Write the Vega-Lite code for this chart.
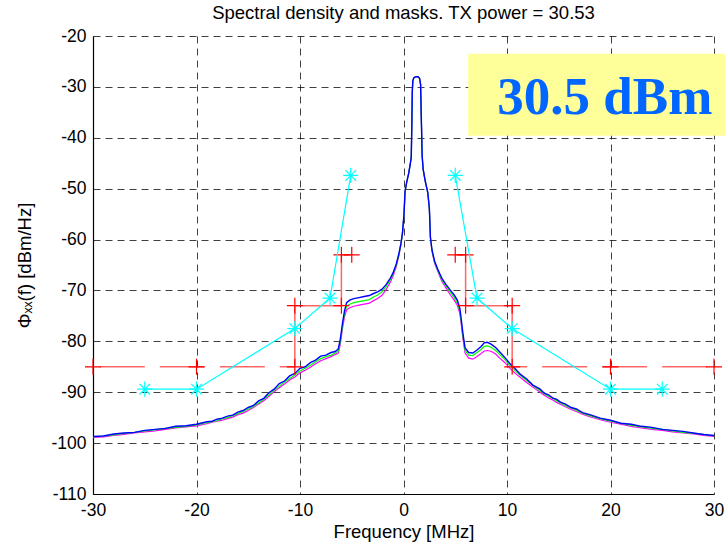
{
  "$schema": "https://vega.github.io/schema/vega-lite/v6.json",
  "width": 621,
  "height": 458,
  "autosize": {"type": "none"},
  "padding": {"left": 93, "top": 36, "right": 11, "bottom": 49},
  "background": "white",
  "title": {"text": "Spectral density and masks. TX power = 30.53", "font": "Liberation Sans", "fontSize": 18.5, "fontWeight": "normal", "color": "#000000", "anchor": "middle", "offset": 5},
  "config": {
    "view": {"stroke": null},
    "axis": {
      "labelFont": "Liberation Sans", "labelFontSize": 17.5, "labelColor": "#000000",
      "titleFont": "Liberation Sans", "titleFontSize": 18.5, "titleFontWeight": "normal", "titleColor": "#000000",
      "ticks": false, "domainColor": "#000000", "domainWidth": 1.2,
      "gridColor": "#000000", "gridDash": [7, 5], "gridOpacity": 0.75, "gridWidth": 1,
      "labelPadding": 7, "labelFlush": false, "labelOverlap": false,
      "labelExpr": "replace(datum.label, '−', '-')"
    }
  },
  "datasets": {
    "box": [{"f": 6.25, "f2": 31.5, "v": -23.5, "v2": -39.6}],
    "note": [{"f": 19.45, "v": -35.4, "label": "30.5 dBm"}],
    "spec": [
      {"f": -30, "b": -98.7, "g": -98.8, "m": -98.9},
      {"f": -29, "b": -98.6, "g": -98.6, "m": -98.8},
      {"f": -28, "b": -98.2, "g": -98.4, "m": -98.5},
      {"f": -27, "b": -98.0, "g": -98.1, "m": -98.3},
      {"f": -26, "b": -97.9, "g": -97.9, "m": -98.0},
      {"f": -25, "b": -97.5, "g": -97.6, "m": -97.8},
      {"f": -24, "b": -97.3, "g": -97.4, "m": -97.6},
      {"f": -23, "b": -97.1, "g": -97.1, "m": -97.3},
      {"f": -22, "b": -96.7, "g": -96.9, "m": -97.0},
      {"f": -21, "b": -96.6, "g": -96.7, "m": -96.8},
      {"f": -20, "b": -96.3, "g": -96.4, "m": -96.6},
      {"f": -19, "b": -95.8, "g": -96.0, "m": -96.2},
      {"f": -18.5, "b": -95.7, "g": -95.8, "m": -95.9},
      {"f": -18, "b": -95.3, "g": -95.6, "m": -95.7},
      {"f": -17.5, "b": -95.1, "g": -95.2, "m": -95.5},
      {"f": -17, "b": -94.7, "g": -95.0, "m": -95.2},
      {"f": -16.5, "b": -94.5, "g": -94.6, "m": -94.9},
      {"f": -16, "b": -93.9, "g": -94.2, "m": -94.4},
      {"f": -15.5, "b": -93.6, "g": -93.8, "m": -94.1},
      {"f": -15, "b": -93.0, "g": -93.3, "m": -93.6},
      {"f": -14.5, "b": -92.6, "g": -92.8, "m": -93.0},
      {"f": -14, "b": -91.7, "g": -92.1, "m": -92.3},
      {"f": -13.5, "b": -91.2, "g": -91.4, "m": -91.7},
      {"f": -13, "b": -90.1, "g": -90.5, "m": -90.8},
      {"f": -12.5, "b": -89.4, "g": -89.6, "m": -89.9},
      {"f": -12, "b": -88.3, "g": -88.8, "m": -89.1},
      {"f": -11.5, "b": -87.8, "g": -88.0, "m": -88.4},
      {"f": -11, "b": -86.8, "g": -87.3, "m": -87.6},
      {"f": -10.5, "b": -86.3, "g": -86.6, "m": -87.0},
      {"f": -10, "b": -85.3, "g": -85.8, "m": -86.2},
      {"f": -9.5, "b": -85.0, "g": -85.3, "m": -85.7},
      {"f": -9, "b": -84.2, "g": -84.7, "m": -85.1},
      {"f": -8.5, "b": -83.7, "g": -84.0, "m": -84.4},
      {"f": -8, "b": -82.9, "g": -83.4, "m": -83.8},
      {"f": -7.5, "b": -82.7, "g": -83.0, "m": -83.4},
      {"f": -7, "b": -82.2, "g": -82.7, "m": -83.0},
      {"f": -6.6, "b": -82.0, "g": -82.3, "m": -82.6},
      {"f": -6.3, "b": -81.5, "g": -81.9, "m": -82.3},
      {"f": -6.1, "b": -79.5, "g": -80.0, "m": -80.5},
      {"f": -5.9, "b": -76.5, "g": -77.0, "m": -77.5},
      {"f": -5.7, "b": -74.0, "g": -74.6, "m": -75.2},
      {"f": -5.5, "b": -72.4, "g": -73.1, "m": -73.8},
      {"f": -5.2, "b": -71.9, "g": -72.7, "m": -73.4},
      {"f": -4.8, "b": -71.6, "g": -72.4, "m": -73.1},
      {"f": -4.3, "b": -71.4, "g": -72.2, "m": -72.9},
      {"f": -3.8, "b": -71.2, "g": -72.0, "m": -72.7},
      {"f": -3.3, "b": -71.0, "g": -71.8, "m": -72.5},
      {"f": -2.9, "b": -70.6, "g": -71.3, "m": -72.0},
      {"f": -2.5, "b": -70.3, "g": -70.9, "m": -71.6},
      {"f": -2.1, "b": -69.8, "g": -70.3, "m": -71.0},
      {"f": -1.7, "b": -68.9, "g": -69.3, "m": -69.9},
      {"f": -1.3, "b": -67.7, "g": -68.0, "m": -68.5},
      {"f": -1.0, "b": -66.5, "g": -66.7, "m": -67.1},
      {"f": -0.7, "b": -64.8, "g": -65.0, "m": -65.3},
      {"f": -0.45, "b": -62.8, "g": -63.0, "m": -63.2},
      {"f": -0.25, "b": -60.8, "g": -60.9, "m": -61.0},
      {"f": -0.1, "b": -58.7, "g": -58.8, "m": -58.8},
      {"f": 0.05, "b": -55.0, "g": -55.0, "m": -55.0},
      {"f": 0.15, "b": -50.5, "g": -50.5, "m": -50.5},
      {"f": 0.3, "b": -48.8, "g": -48.8, "m": -48.8},
      {"f": 0.5, "b": -47.0, "g": -47.0, "m": -47.0},
      {"f": 0.65, "b": -45.2, "g": -45.2, "m": -45.2},
      {"f": 0.75, "b": -43.8, "g": -43.8, "m": -43.8},
      {"f": 0.8, "b": -38.0, "g": -38.0, "m": -38.0},
      {"f": 0.85, "b": -31.0, "g": -31.0, "m": -31.0},
      {"f": 0.9, "b": -28.8, "g": -28.8, "m": -28.8},
      {"f": 1.0, "b": -28.2, "g": -28.2, "m": -28.2},
      {"f": 1.2, "b": -28.0, "g": -28.0, "m": -28.0},
      {"f": 1.4, "b": -28.0, "g": -28.0, "m": -28.0},
      {"f": 1.55, "b": -28.3, "g": -28.3, "m": -28.3},
      {"f": 1.65, "b": -29.5, "g": -29.5, "m": -29.5},
      {"f": 1.72, "b": -36.0, "g": -36.0, "m": -36.0},
      {"f": 1.8, "b": -43.5, "g": -43.5, "m": -43.5},
      {"f": 1.9, "b": -46.2, "g": -46.2, "m": -46.2},
      {"f": 2.1, "b": -48.5, "g": -48.5, "m": -48.5},
      {"f": 2.35, "b": -50.8, "g": -50.8, "m": -50.8},
      {"f": 2.5, "b": -54.0, "g": -54.0, "m": -54.0},
      {"f": 2.6, "b": -59.5, "g": -59.6, "m": -59.7},
      {"f": 2.75, "b": -62.0, "g": -62.1, "m": -62.3},
      {"f": 3.0, "b": -64.2, "g": -64.4, "m": -64.6},
      {"f": 3.3, "b": -65.8, "g": -66.0, "m": -66.2},
      {"f": 3.7, "b": -67.6, "g": -67.9, "m": -68.2},
      {"f": 4.1, "b": -68.8, "g": -69.1, "m": -69.5},
      {"f": 4.5, "b": -69.9, "g": -70.3, "m": -70.8},
      {"f": 4.9, "b": -70.9, "g": -71.4, "m": -71.9},
      {"f": 5.2, "b": -71.9, "g": -72.4, "m": -72.9},
      {"f": 5.45, "b": -73.6, "g": -74.1, "m": -74.6},
      {"f": 5.6, "b": -76.0, "g": -76.5, "m": -77.0},
      {"f": 5.75, "b": -78.6, "g": -79.1, "m": -79.6},
      {"f": 5.95, "b": -81.3, "g": -81.8, "m": -82.3},
      {"f": 6.3, "b": -82.2, "g": -82.7, "m": -83.3},
      {"f": 6.7, "b": -82.3, "g": -82.8, "m": -83.5},
      {"f": 7.1, "b": -81.7, "g": -82.2, "m": -83.0},
      {"f": 7.5, "b": -81.0, "g": -81.6, "m": -82.4},
      {"f": 7.8, "b": -80.3, "g": -81.0, "m": -81.9},
      {"f": 8.1, "b": -80.2, "g": -80.9, "m": -81.8},
      {"f": 8.5, "b": -80.6, "g": -81.2, "m": -82.0},
      {"f": 8.9, "b": -81.2, "g": -81.8, "m": -82.5},
      {"f": 9.3, "b": -82.1, "g": -82.6, "m": -83.3},
      {"f": 9.8, "b": -83.2, "g": -83.6, "m": -84.2},
      {"f": 10.3, "b": -84.4, "g": -84.8, "m": -85.3},
      {"f": 10.8, "b": -85.4, "g": -85.8, "m": -86.3},
      {"f": 11.3, "b": -86.5, "g": -86.7, "m": -87.1},
      {"f": 11.9, "b": -87.4, "g": -87.7, "m": -88.1},
      {"f": 12.5, "b": -88.6, "g": -88.7, "m": -89.0},
      {"f": 13.2, "b": -89.4, "g": -89.7, "m": -90.0},
      {"f": 13.6, "b": -90.2, "g": -90.3, "m": -90.6},
      {"f": 14, "b": -90.5, "g": -90.8, "m": -91.1},
      {"f": 14.4, "b": -91.1, "g": -91.2, "m": -91.5},
      {"f": 14.8, "b": -91.4, "g": -91.7, "m": -92.0},
      {"f": 15.2, "b": -92.0, "g": -92.1, "m": -92.4},
      {"f": 15.6, "b": -92.3, "g": -92.6, "m": -92.8},
      {"f": 16.2, "b": -93.0, "g": -93.1, "m": -93.4},
      {"f": 16.7, "b": -93.3, "g": -93.6, "m": -93.8},
      {"f": 17.3, "b": -94.0, "g": -94.1, "m": -94.3},
      {"f": 18, "b": -94.4, "g": -94.6, "m": -94.8},
      {"f": 19, "b": -95.1, "g": -95.2, "m": -95.4},
      {"f": 20, "b": -95.5, "g": -95.7, "m": -95.9},
      {"f": 21, "b": -96.1, "g": -96.1, "m": -96.3},
      {"f": 22, "b": -96.3, "g": -96.5, "m": -96.7},
      {"f": 23, "b": -96.7, "g": -96.8, "m": -97.0},
      {"f": 24, "b": -96.9, "g": -97.1, "m": -97.3},
      {"f": 25, "b": -97.3, "g": -97.3, "m": -97.5},
      {"f": 26, "b": -97.5, "g": -97.6, "m": -97.8},
      {"f": 27, "b": -97.7, "g": -97.9, "m": -98.0},
      {"f": 28, "b": -98.0, "g": -98.1, "m": -98.2},
      {"f": 29, "b": -98.3, "g": -98.3, "m": -98.5},
      {"f": 30, "b": -98.5, "g": -98.6, "m": -98.7}
    ],
    "mask": [
      {"f": -5, "v": -63, "side": "L", "k": 1},
      {"f": -6, "v": -63, "side": "L", "k": 2},
      {"f": -6, "v": -73, "side": "L", "k": 3},
      {"f": -10.5, "v": -73, "side": "L", "k": 4},
      {"f": -10.5, "v": -85, "side": "L", "k": 5},
      {"f": 5, "v": -63, "side": "R", "k": 1},
      {"f": 6, "v": -63, "side": "R", "k": 2},
      {"f": 6, "v": -73, "side": "R", "k": 3},
      {"f": 10.5, "v": -73, "side": "R", "k": 4},
      {"f": 10.5, "v": -85, "side": "R", "k": 5}
    ],
    "maskdash": [
      {"f": -10.5, "v": -85, "side": "L", "k": 1},
      {"f": -20, "v": -85, "side": "L", "k": 2},
      {"f": -30, "v": -85, "side": "L", "k": 3},
      {"f": 10.5, "v": -85, "side": "R", "k": 1},
      {"f": 20, "v": -85, "side": "R", "k": 2},
      {"f": 30, "v": -85, "side": "R", "k": 3}
    ],
    "maskpts": [
      {"f": -30, "v": -85}, {"f": -20, "v": -85}, {"f": -10.5, "v": -85},
      {"f": -10.5, "v": -73}, {"f": -6, "v": -73}, {"f": -6, "v": -63}, {"f": -5, "v": -63},
      {"f": 5, "v": -63}, {"f": 6, "v": -63}, {"f": 6, "v": -73}, {"f": 10.5, "v": -73},
      {"f": 10.5, "v": -85}, {"f": 20, "v": -85}, {"f": 30, "v": -85}
    ],
    "cyan": [
      {"f": -25, "v": -89.4, "side": "L", "k": 1},
      {"f": -20, "v": -89.4, "side": "L", "k": 2},
      {"f": -10.5, "v": -77.5, "side": "L", "k": 3},
      {"f": -7.1, "v": -71.5, "side": "L", "k": 4},
      {"f": -5.1, "v": -47.4, "side": "L", "k": 5},
      {"f": 5.0, "v": -47.4, "side": "R", "k": 1},
      {"f": 7.1, "v": -71.5, "side": "R", "k": 2},
      {"f": 10.5, "v": -77.5, "side": "R", "k": 3},
      {"f": 20, "v": -89.4, "side": "R", "k": 4},
      {"f": 25, "v": -89.4, "side": "R", "k": 5}
    ]
  },
  "encoding": {
    "x": {"field": "f", "type": "quantitative",
      "scale": {"domain": [-30, 30], "nice": false, "zero": false},
      "axis": {"title": "Frequency [MHz]", "values": [-30, -20, -10, 0, 10, 20, 30], "titlePadding": 4}},
    "y": {"field": "v", "type": "quantitative",
      "scale": {"domain": [-110, -20], "nice": false, "zero": false},
      "axis": {"title": "Φₓₓ(f) [dBm/Hz]", "values": [-110, -100, -90, -80, -70, -60, -50, -40, -30, -20], "titlePadding": 16}}
  },
  "layer": [
    {
      "data": {"name": "box"},
      "mark": {"type": "rect", "color": "#ffff99", "clip": false},
      "encoding": {
        "x2": {"field": "f2"},
        "y2": {"field": "v2"}
      }
    },
    {
      "data": {"name": "note"},
      "mark": {"type": "text", "font": "Liberation Serif", "fontWeight": "bold", "fontSize": 53, "color": "#0066ff", "align": "center", "baseline": "alphabetic"},
      "encoding": {
        "text": {"field": "label"}
      }
    },
    {
      "data": {"name": "spec"},
      "transform": [{"fold": ["m", "g", "b"], "as": ["s", "v"]}, {"filter": "datum.s == 'm'"}],
      "mark": {"type": "line", "color": "#ff00ff", "strokeWidth": 1.2},
      "encoding": {}
    },
    {
      "data": {"name": "spec"},
      "transform": [{"fold": ["m", "g", "b"], "as": ["s", "v"]}, {"filter": "datum.s == 'g'"}],
      "mark": {"type": "line", "color": "#00ff00", "strokeWidth": 1.2},
      "encoding": {}
    },
    {
      "data": {"name": "spec"},
      "transform": [{"fold": ["m", "g", "b"], "as": ["s", "v"]}, {"filter": "datum.s == 'b'"}],
      "mark": {"type": "line", "color": "#0000ff", "strokeWidth": 1.4},
      "encoding": {}
    },
    {
      "data": {"name": "mask"},
      "mark": {"type": "line", "color": "#ff0000", "strokeWidth": 1.5, "opacity": 0.6},
      "encoding": {"detail": {"field": "side"}, "order": {"field": "k"}}
    },
    {
      "data": {"name": "maskdash"},
      "mark": {"type": "line", "color": "#ff0000", "strokeWidth": 1.5, "opacity": 0.6, "strokeDash": [45, 15], "strokeDashOffset": 30},
      "encoding": {"detail": {"field": "side"}, "order": {"field": "k"}}
    },
    {
      "data": {"name": "maskpts"},
      "mark": {"type": "point", "shape": "M-1,0H1M0,-1V1", "filled": false, "size": 256, "color": "#ff0000", "strokeWidth": 1.2, "opacity": 1},
      "encoding": {}
    },
    {
      "data": {"name": "cyan"},
      "mark": {"type": "line", "color": "#00ffff", "strokeWidth": 1.2},
      "encoding": {"detail": {"field": "side"}, "order": {"field": "k"}}
    },
    {
      "data": {"name": "cyan"},
      "mark": {"type": "point", "shape": "M-1,0H1M0,-1V1M-0.7,-0.7L0.7,0.7M-0.7,0.7L0.7,-0.7", "filled": false, "size": 230, "color": "#00ffff", "strokeWidth": 1.2, "opacity": 1},
      "encoding": {}
    }
  ]
}
